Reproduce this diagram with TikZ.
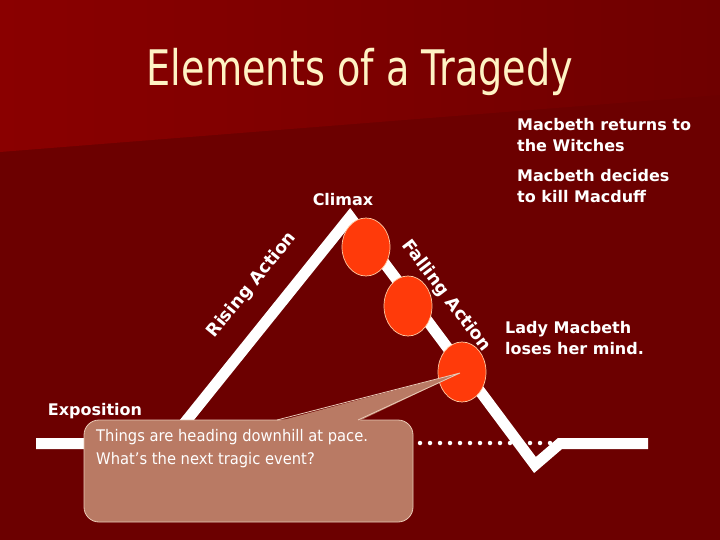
\documentclass[tikz,border=0pt]{standalone}
\usepackage{fontspec}
\usetikzlibrary{shapes.geometric}
\setmainfont{DejaVu Sans}
\newfontfamily\titlefont[FakeStretch=0.78]{DejaVu Sans}
\newfontfamily\callfont[FakeStretch=0.92]{DejaVu Sans}
\definecolor{bgdark}{HTML}{6C0000}
\definecolor{bglight}{HTML}{8A0000}
\definecolor{bgmid}{HTML}{6F0000}
\definecolor{titlecol}{HTML}{FFF3C4}
\definecolor{ballfill}{HTML}{FF3A0A}
\definecolor{ballline}{HTML}{FFC8A0}
\definecolor{callfill}{HTML}{B97A64}
\definecolor{callline}{HTML}{E9C9B6}
\begin{document}
\begin{tikzpicture}[x=1pt,y=-1pt,
  plotline/.style={draw=white,line width=11pt,miter limit=10},
  event/.style={ellipse,fill=ballfill,draw=ballline,line width=0.7pt,minimum width=48pt,minimum height=58pt,inner sep=0pt},
  label/.style={text=white,font=\bfseries\fontsize{16}{21}\selectfont,inner sep=0pt,align=left},
  slant/.style={text=white,font=\bfseries\fontsize{17.5}{21}\selectfont,inner sep=0pt}]
\useasboundingbox (0,0) rectangle (720,540);
% background
\fill[bgdark] (0,0) rectangle (720,540);
\shade[left color=bglight,right color=bgmid] (0,0) -- (720,0) -- (720,95) -- (0,152) -- cycle;
% title
\node[anchor=base,text=titlecol,font=\titlefont\fontsize{49}{55}\selectfont,inner sep=0pt] (title) at (360,86) {Elements of a Tragedy};
% plot coordinates
\coordinate (s) at (36,443.5);
\coordinate (r) at (168,443.5);
\coordinate (p) at (350,217);
\coordinate (v) at (535,465);
\coordinate (u) at (560,443.5);
\coordinate (e) at (648,443.5);
\coordinate (d1) at (420,443);
\coordinate (d2) at (560,443);
% dotted line
\draw[white,line width=4.5pt,line cap=round,dash pattern=on 0pt off 10pt] (d1) -- (d2);
% plot line
\draw[plotline] (s) -- (r) -- (p) -- (v) -- (u) -- (e);
% events
\node[event] (ev1) at (366,247) {};
\node[event,minimum height=60pt] (ev2) at (408,306) {};
\node[event,minimum height=60pt] (ev3) at (462,372) {};
% labels
\node[label] (climax) at (343,200) {Climax};
\node[label,anchor=west] (witches) at (517,135) {Macbeth returns to\\the Witches};
\node[label,anchor=west] (macduff) at (517,186) {Macbeth decides\\to kill Macduff};
\node[label,anchor=west] (lady) at (505,338) {Lady Macbeth\\loses her mind.};
\node[label] (expo) at (95,411) {Exposition};
\node[slant,rotate=50.6] (rising) at (252,285) {Rising Action};
\node[slant,rotate=-52.8] (falling) at (446,296) {Falling Action};
% callout
\coordinate (tip) at (460,373);
\draw[fill=callfill,draw=callline,line width=0.8pt,rounded corners=15pt] (84,420) rectangle (413,522);
\fill[callfill] (277,421.5) -- (tip) -- (358,421.5) -- cycle;
\draw[callline,line width=0.8pt] (277,420) -- (tip) -- (358,420);
\node[anchor=north west,text=white,font=\callfont\fontsize{16}{23}\selectfont,align=left,inner sep=0pt] (calltext) at (96,429) {Things are heading downhill at pace.\\What’s the next tragic event?};
\end{tikzpicture}
\end{document}
